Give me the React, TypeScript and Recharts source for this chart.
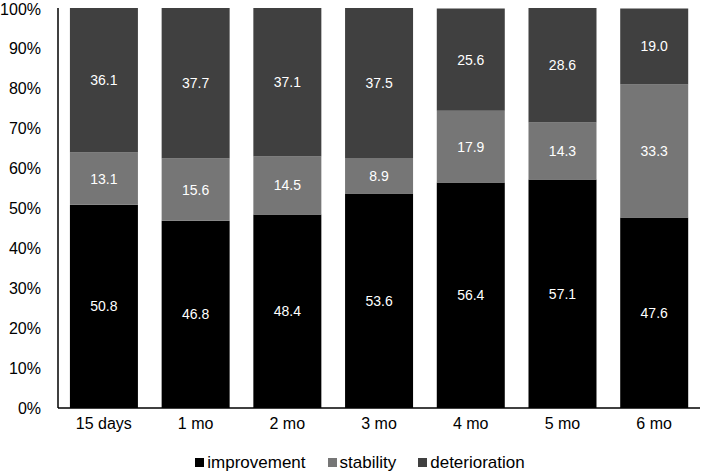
import React from 'react';
import { BarChart, Bar, XAxis, YAxis, Legend, LabelList } from 'recharts';

const periods = ['15 days', '1 mo', '2 mo', '3 mo', '4 mo', '5 mo', '6 mo'];
const improvement = [50.8, 46.8, 48.4, 53.6, 56.4, 57.1, 47.6];
const stability = [13.1, 15.6, 14.5, 8.9, 17.9, 14.3, 33.3];
const deterioration = [36.1, 37.7, 37.1, 37.5, 25.6, 28.6, 19.0];
const yTicks = [0, 10, 20, 30, 40, 50, 60, 70, 80, 90, 100];

const seriesNames = ['improvement', 'stability', 'deterioration'];
const seriesColors = ['#000000', '#767676', '#404040'];

const data = periods.map((p, i) => ({
  period: p,
  improvement: improvement[i],
  stability: stability[i],
  deterioration: deterioration[i],
}));

const font = '"Liberation Sans", Arial, sans-serif';
const fmt = (v: any) => Number(v).toFixed(1);

function LegendBox(): React.ReactElement {
  return (
    <div style={{ display: 'flex', justifyContent: 'center', paddingLeft: 12, paddingTop: 15, fontFamily: font, fontSize: 17, color: '#000', lineHeight: '19px' }}>
      {seriesNames.map((n, i) => (
        <span key={n} style={{ display: 'inline-flex', alignItems: 'center', marginRight: i < 2 ? 22 : 0 }}>
          <span style={{ width: 9, height: 9, background: seriesColors[i], display: 'inline-block', marginRight: 3 }} />
          {n}
        </span>
      ))}
    </div>
  );
}

export default function App(): React.ReactElement {
  return (
    <div style={{ position: 'absolute', left: 0, top: 0, width: 709, height: 472, background: '#fff', fontFamily: font }}>
      <BarChart
        width={709}
        height={472}
        data={data}
        margin={{ top: 8, right: 9, bottom: 0, left: 8 }}
        barCategoryGap="13%"
      >
        <XAxis
          dataKey="period"
          axisLine={{ stroke: '#000', strokeWidth: 1.5 }}
          tickLine={false}
          tick={{ fill: '#000', fontSize: 16, fontFamily: font }}
          tickMargin={4}
        />
        <YAxis
          domain={[0, 100]}
          ticks={yTicks}
          allowDataOverflow
          width={50}
          axisLine={{ stroke: '#000', strokeWidth: 1.5 }}
          tickLine={false}
          tickFormatter={(v) => `${v}%`}
          tick={{ fill: '#000', fontSize: 16, fontFamily: font }}
          tickMargin={11}
        />
        <Legend verticalAlign="bottom" content={() => <LegendBox />} />
        <Bar dataKey="improvement" stackId="a" fill={seriesColors[0]} isAnimationActive={false}>
          <LabelList dataKey="improvement" position="center" fill="#fff" fontSize={14} fontFamily={font} formatter={fmt} />
        </Bar>
        <Bar dataKey="stability" stackId="a" fill={seriesColors[1]} isAnimationActive={false}>
          <LabelList dataKey="stability" position="center" fill="#fff" fontSize={14} fontFamily={font} formatter={fmt} />
        </Bar>
        <Bar dataKey="deterioration" stackId="a" fill={seriesColors[2]} isAnimationActive={false}>
          <LabelList dataKey="deterioration" position="center" fill="#fff" fontSize={14} fontFamily={font} formatter={fmt} />
        </Bar>
      </BarChart>
    </div>
  );
}
